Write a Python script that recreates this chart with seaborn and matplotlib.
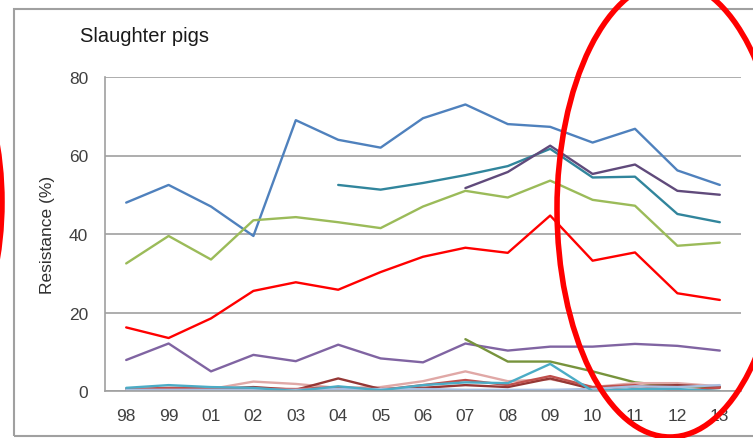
import numpy as np
import pandas as pd
import matplotlib
matplotlib.use("Agg")
import matplotlib.pyplot as plt
import seaborn as sns
from matplotlib.patches import Ellipse, Rectangle

years = ["98", "99", "01", "02", "03", "04", "05", "06", "07", "08", "09", "10", "11", "12", "13"]
nan = np.nan

s_blue = [48, 52.5, 47, 39.5, 69, 64, 62, 69.5, 73, 68, 67.3, 63.3, 66.8, 56.2, 52.5]
s_teal = [nan, nan, nan, nan, nan, 52.5, 51.3, 53, 55, 57.3, 61.7, 54.4, 54.6, 45.1, 43]
s_darkpurple = [nan, nan, nan, nan, nan, nan, nan, nan, 51.7, 55.8, 62.5, 55.3, 57.7, 51, 50]
s_green = [32.5, 39.5, 33.5, 43.5, 44.3, 43, 41.5, 47, 51, 49.3, 53.6, 48.7, 47.2, 37, 37.8]
s_red = [16.2, 13.5, 18.5, 25.5, 27.7, 25.8, 30.3, 34.2, 36.5, 35.2, 44.7, 33.2, 35.3, 24.9, 23.2]
s_purple = [7.9, 12.1, 5, 9.2, 7.6, 11.8, 8.3, 7.3, 12.1, 10.3, 11.3, 11.3, 12, 11.5, 10.3]
s_olive = [nan, nan, nan, nan, nan, nan, nan, nan, 13.2, 7.5, 7.5, 5, 2.2, 1.2, 1]
s_pink = [0.2, 0.5, 0.5, 2.4, 1.8, 0.8, 1, 2.5, 5, 2.5, 3, 1, 2, 2, 1.2]
s_darkred = [0.3, 0.4, 0.5, 1, 0.3, 3.2, 0.5, 0.8, 1.5, 1, 3.2, 0.5, 1.2, 1.5, 1]
s_brick = [0.5, 0.8, 0.8, 0.6, 0.5, 1, 0.3, 1.5, 2.8, 1.5, 3.8, 1, 1.5, 0, 0.8]
s_lightblue = [0.3, 0.3, 0.3, 0.3, 0.3, 0.5, 0.5, 0.5, 0.3, 0.3, 0.3, 0.5, 1.2, 1, 1.5]
s_lightteal = [0.8, 1.5, 1, 0.8, 0, 1.2, 0.2, 1.5, 2.2, 2, 6.9, 0, 0.5, 0.5, 0]

series = {
    "s1": s_blue, "s2": s_teal, "s3": s_darkpurple, "s4": s_green,
    "s5": s_red, "s6": s_purple, "s7": s_olive, "s8": s_pink,
    "s9": s_darkred, "s10": s_brick, "s11": s_lightblue, "s12": s_lightteal,
}
colors = {
    "s1": "#4F81BD", "s2": "#31859C", "s3": "#604A7B", "s4": "#9BBB59",
    "s5": "#FF0000", "s6": "#8064A2", "s7": "#77933C", "s8": "#E0A8A6",
    "s9": "#953735", "s10": "#C0504D", "s11": "#A9BFE0", "s12": "#4BACC6",
}

rows = []
for name, vals in series.items():
    for i, v in enumerate(vals):
        rows.append({"series": name, "pos": i, "value": v})
df = pd.DataFrame(rows).dropna()

sns.set_style("white")
plt.rcParams["font.family"] = ["Liberation Sans", "DejaVu Sans"]

fig = plt.figure(figsize=(7.53, 4.39), dpi=100)
ax = fig.add_axes([105 / 753, 1 - 392 / 439, 636 / 753, 314 / 439])

sns.lineplot(data=df, x="pos", y="value", hue="series", palette=colors,
             hue_order=list(series.keys()), linewidth=1.7, legend=False,
             sort=False, ax=ax)

ax.set_xlim(-0.5, len(years) - 0.5)
ax.set_ylim(0, 80)
ax.set_xticks(range(len(years)))
ax.set_xticklabels(years, fontsize=12.5, color="#404040")
ax.set_yticks([0, 20, 40, 60, 80])
ax.set_yticklabels(["0", "20", "40", "60", "80"], fontsize=12.5, color="#404040")
ax.tick_params(axis="both", length=0, pad=12)
ax.yaxis.grid(True, color="#A0A0A0", linewidth=1.2)
ax.set_axisbelow(True)
for side in ["top", "right"]:
    ax.spines[side].set_visible(False)
for side in ["left", "bottom"]:
    ax.spines[side].set_color("#A0A0A0")
    ax.spines[side].set_linewidth(1.2)
ax.set_xlabel("")
ax.set_ylabel("Resistance (%)", fontsize=12.5, color="#303030", labelpad=10)

fig.text(80 / 753, 1 - 37 / 439, "Slaughter pigs", fontsize=14.5,
         va="center", ha="left", color="#1a1a1a")

# outer chart frame
fig.patches.append(Rectangle((14, 439 - 437), 760, 427, transform=None,
                             fill=False, edgecolor="#A0A0A0", linewidth=1.5))

# red annotation ellipses
fig.patches.append(Ellipse((670, 439 - 210), 226, 456, transform=None,
                           fill=False, edgecolor="#FF0000", linewidth=4))
fig.patches.append(Ellipse((-102, 439 - 203), 208, 386, transform=None,
                           fill=False, edgecolor="#FF0000", linewidth=4))

fig.savefig("out.png", dpi=100)
plt.close(fig)
